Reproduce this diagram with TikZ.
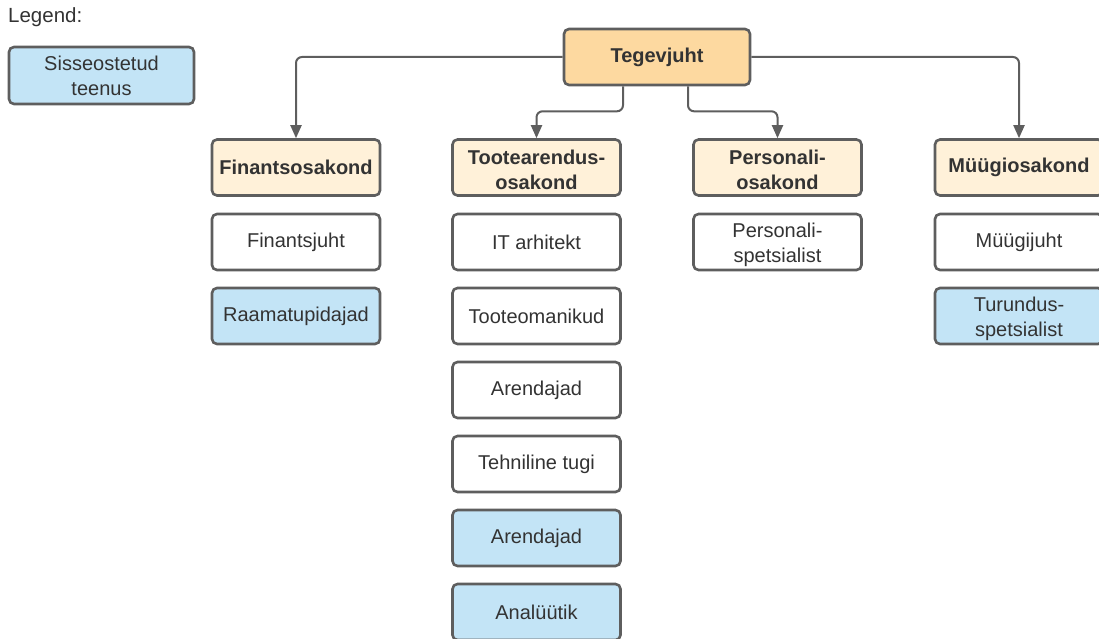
\documentclass[tikz,border=0pt]{standalone}
\usepackage{fontspec}
\setmainfont{Liberation Sans}
\usetikzlibrary{arrows.meta}
\definecolor{edge}{HTML}{5E5E5E}
\definecolor{ink}{HTML}{333333}
\definecolor{headfill}{HTML}{FDD9A0}
\definecolor{deptfill}{HTML}{FFF1D9}
\definecolor{svcfill}{HTML}{C3E4F6}
% a strut that lowers two-line labels a little inside their boxes
\newcommand\firstline{\rule{0pt}{20pt}}
\tikzset{
  box/.style={draw=edge, line width=2.6pt, rounded corners=5pt, fill=white,
    minimum width=168pt, minimum height=56pt, inner sep=0pt, align=center,
    text=ink, font=\fontsize{20}{25}\selectfont},
  head/.style={box, fill=headfill, minimum width=186pt, font=\fontsize{20}{25}\selectfont\bfseries},
  dept/.style={box, fill=deptfill, font=\fontsize{20}{25}\selectfont\bfseries},
  svc/.style={box, fill=svcfill},
  link/.style={draw=edge, line width=2pt, rounded corners=6pt,
    -{Triangle[length=13pt,width=11pt]}},
}
\begin{document}
\begin{tikzpicture}[x=1pt,y=-1pt]
\useasboundingbox (0,0) rectangle (1099,639);

% legend
\node[anchor=west, text=ink, font=\fontsize{20.5}{25}\selectfont, inner sep=0pt] (legend) at (8,17) {Legend:};
\node[svc, minimum width=185pt, minimum height=57pt] (legendbox) at (101.5,75.5) {Sisseostetud\\teenus};

% head of the company
\node[head] (tj) at (657,57) {Tegevjuht};

% departments
\node[dept] (fin) at (296,167.5) {Finantsosakond};
\node[dept] (too) at (536.5,167.5) {\firstline Tootearendus-\\osakond};
\node[dept] (per) at (777.5,167.5) {\firstline Personali-\\osakond};
\node[dept] (myy) at (1019,167.5) {Müügiosakond};

% finance
\node[box] (fin1) at (296,242) {Finantsjuht};
\node[svc] (fin2) at (296,316) {Raamatupidajad};

% product development
\node[box] (too1) at (536.5,242) {IT arhitekt};
\node[box] (too2) at (536.5,316) {Tooteomanikud};
\node[box] (too3) at (536.5,390) {Arendajad};
\node[box] (too4) at (536.5,464) {Tehniline tugi};
\node[svc] (too5) at (536.5,538) {Arendajad};
\node[svc] (too6) at (536.5,612) {Analüütik};

% personnel
\node[box] (per1) at (777.5,242) {\firstline Personali-\\spetsialist};

% sales
\node[box] (myy1) at (1019,242) {Müügijuht};
\node[svc] (myy2) at (1019,316) {\firstline Turundus-\\spetsialist};

% connectors
\draw[link] (tj.west) -| (fin.north);
\draw[link] (tj.east) -| (myy.north);
\draw[link] ([xshift=-34pt]tj.south) -- ++(0,25) -| (too.north);
\draw[link] ([xshift=31pt]tj.south) -- ++(0,25) -| (per.north);
\end{tikzpicture}
\end{document}
